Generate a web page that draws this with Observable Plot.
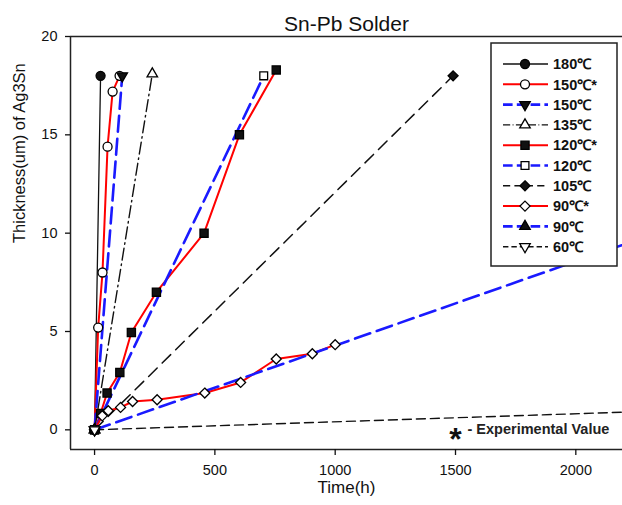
<!DOCTYPE html>
<html>
<head>
<meta charset="utf-8">
<script src="https://cdn.jsdelivr.net/npm/d3@7"></script>
<script src="https://cdn.jsdelivr.net/npm/@observablehq/plot@0.6"></script>
<style>
  html, body { margin: 0; padding: 0; background: #fff; }
</style>
</head>
<body>
<div id="chart"></div>
<script>
// ---- Data ----
const labels = ["180℃", "150℃*", "150℃", "135℃", "120℃*", "120℃", "105℃", "90℃*", "90℃", "60℃"];

const time180 = [0, 25];            const thick180 = [0, 18];
const time150s = [0, 15, 33, 54, 75, 104]; const thick150s = [0, 5.2, 8.0, 14.4, 17.2, 18];
const time150 = [0, 115];           const thick150 = [0, 18];
const time135 = [0, 240];           const thick135 = [0, 18.1];
const time120s = [0, 25, 52, 105, 153, 257, 455, 602, 755];
const thick120s = [0, 0.83, 1.87, 2.92, 4.95, 7.0, 10.0, 15.0, 18.3];
const time120 = [0, 703];           const thick120 = [0, 18];
const time105 = [0, 1490];          const thick105 = [0, 18];
const time90s = [0, 32, 57, 108, 158, 260, 458, 607, 755, 905, 1000];
const thick90s = [0, 0.71, 0.97, 1.14, 1.44, 1.53, 1.87, 2.41, 3.6, 3.87, 4.33];
const time90 = [0, 4200];           const thick90 = [0, 18];
const time60 = [0, 4400];           const thick60 = [0, 1.8];

const xTicks = [0, 500, 1000, 1500, 2000];
const yTicks = [0, 5, 10, 15, 20];
const xDomain = [-100, 2194];
const yDomain = [-1, 20];

const titleText = "Sn-Pb Solder";
const xLabel = "Time(h)";
const yLabel = "Thickness(um) of Ag3Sn";
const noteStar = "*";
const noteText = "- Experimental Value";
const noteX = [1500];
const noteY = [0];

// ---- Styles ----
const RED = "#ff0000", BLUE = "#1a1aff", BLK = "#111";
const styles = [
  {stroke: BLK,  w: 1.3, dash: null,         symbol: "circle",   fill: BLK,    rot: 0,   r: 4.5},
  {stroke: RED,  w: 2,   dash: null,         symbol: "circle",   fill: "#fff", rot: 0,   r: 4.5},
  {stroke: BLUE, w: 2.6, dash: "16,7",       symbol: "triangle", fill: BLK,    rot: 180, r: 3.9},
  {stroke: BLK,  w: 1.4, dash: "12,4,1.5,4", symbol: "triangle", fill: "#fff", rot: 0,   r: 3.9},
  {stroke: RED,  w: 2,   dash: null,         symbol: "square",   fill: BLK,    rot: 0,   r: 4.6},
  {stroke: BLUE, w: 2.6, dash: "16,7",       symbol: "square",   fill: "#fff", rot: 0,   r: 4.4},
  {stroke: BLK,  w: 1.5, dash: "12,7",       symbol: "diamond2", fill: BLK,    rot: 0,   r: 4.5},
  {stroke: RED,  w: 2,   dash: null,         symbol: "diamond2", fill: "#fff", rot: 0,   r: 4.5},
  {stroke: BLUE, w: 2.6, dash: "16,7",       symbol: "triangle", fill: BLK,    rot: 0,   r: 3.9},
  {stroke: BLK,  w: 1.4, dash: "9,5",        symbol: "triangle", fill: "#fff", rot: 180, r: 3.9}
];

const seriesX = [time180, time150s, time150, time135, time120s, time120, time105, time90s, time90, time60];
const seriesY = [thick180, thick150s, thick150, thick135, thick120s, thick120, thick105, thick90s, thick90, thick60];
const tables = seriesX.map((xs, i) => xs.map((t, j) => ({t, v: seriesY[i][j], s: labels[i]})));

const lineMarks = [];
tables.forEach((data, i) => {
  const st = styles[i];
  lineMarks.push(Plot.line(data, {x: "t", y: "v", stroke: st.stroke, strokeWidth: st.w,
    strokeDasharray: st.dash, clip: true}));
});
const dotMarks = [];
tables.forEach((data, i) => {
  const st = styles[i];
  dotMarks.push(Plot.dot(data, {x: "t", y: "v", symbol: st.symbol, r: st.r, fill: st.fill,
    stroke: "#000", strokeWidth: 1.3, rotate: st.rot, clip: true}));
});

const FONT = "Liberation Sans, Arial, Helvetica, sans-serif";

const plot = Plot.plot({
  width: 622,
  height: 505,
  marginLeft: 70,
  marginRight: 0,
  marginTop: 36,
  marginBottom: 56,
  style: {fontFamily: FONT, fontSize: "14px", background: "#fff", color: "#111"},
  x: {domain: xDomain},
  y: {domain: yDomain},
  marks: [
    Plot.ruleY(yDomain, {stroke: "#222", strokeWidth: 1.5}),
    Plot.ruleX([xDomain[0]], {stroke: "#222", strokeWidth: 1.5}),
    Plot.axisX({ticks: xTicks, tickFormat: d3.format("d"), tickSize: 6, tickPadding: 9, label: null, fontSize: 14.5, strokeWidth: 1.3}),
    Plot.axisY({ticks: yTicks, tickFormat: d3.format("d"), tickSize: 5, tickPadding: 8, label: null, fontSize: 14.5, strokeWidth: 1.3}),
    ...lineMarks,
    ...dotMarks,
    Plot.text([titleText], {frameAnchor: "top", dy: -20, fontSize: 21, fill: "#111"}),
    Plot.text([xLabel], {frameAnchor: "bottom", dy: 43, fontSize: 17, fill: "#111"}),
    Plot.text([yLabel], {frameAnchor: "left", dx: -51, rotate: -90, fontSize: 16.5, fill: "#111"}),
    Plot.text(noteX.map((x, i) => ({x, y: noteY[i]})), {x: "x", y: "y", text: () => noteStar,
      fontSize: 32, fontWeight: "bold", dy: 10, fill: "#111"}),
    Plot.text(noteX.map((x, i) => ({x, y: noteY[i]})), {x: "x", y: "y", text: () => noteText,
      fontSize: 14.5, fontWeight: "bold", textAnchor: "start", dx: 12, fill: "#222"})
  ]
});

document.getElementById("chart").appendChild(plot);

// ---- Legend (drawn into the SVG) ----
const svg = d3.select(plot);
const lg = svg.append("g").attr("font-family", FONT).attr("text-anchor", "start");
lg.append("rect").attr("x", 491).attr("y", 43).attr("width", 126).attr("height", 223)
  .attr("fill", "#fff").attr("stroke", "#222").attr("stroke-width", 1.5);
const symMap = {circle: d3.symbolCircle, triangle: d3.symbolTriangle, square: d3.symbolSquare, diamond2: d3.symbolDiamond2};
labels.forEach((lab, i) => {
  const st = styles[i];
  const y = 64 + 20.3 * i;
  lg.append("line").attr("x1", 503).attr("x2", 548).attr("y1", y).attr("y2", y)
    .attr("stroke", st.stroke).attr("stroke-width", st.w)
    .attr("stroke-dasharray", st.dash ? st.dash.split(",").map(d => +d * 0.6).join(",") : null);
  lg.append("path").attr("d", d3.symbol(symMap[st.symbol], Math.PI * st.r * st.r)())
    .attr("transform", `translate(525,${y}) rotate(${st.rot})`)
    .attr("fill", st.fill).attr("stroke", "#000").attr("stroke-width", 1.3);
  lg.append("text").attr("x", 553).attr("y", y).attr("dy", "0.36em")
    .attr("font-size", 14.5).attr("font-weight", "bold").attr("fill", "#111").text(lab);
});
</script>
</body>
</html>
